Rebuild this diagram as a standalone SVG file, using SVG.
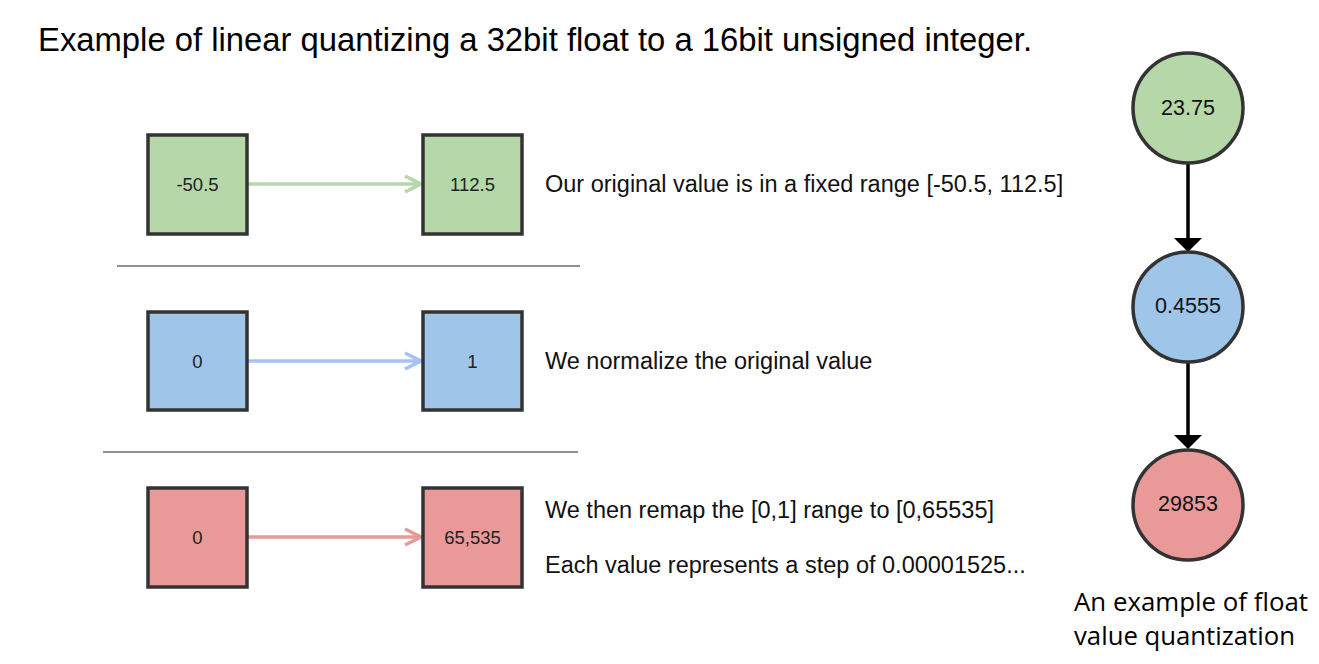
<svg xmlns="http://www.w3.org/2000/svg" width="1319" height="664" viewBox="0 0 1319 664">
<style>
.box{stroke:#333;stroke-width:3.5}
.g{fill:#b6d7a8}.b{fill:#9fc5e8}.r{fill:#ea9999}
.lbl{font-family:"Liberation Sans",Arial,sans-serif;font-size:18.5px;fill:#222;text-anchor:middle;dominant-baseline:central}
.clbl{font-family:"Liberation Sans",Arial,sans-serif;font-size:21.5px;fill:#111;text-anchor:middle;dominant-baseline:central}
.desc{font-family:"Liberation Sans",Arial,sans-serif;font-size:23.5px;fill:#111}
.sep{stroke:#222;stroke-width:1}
.cap{font-family:"Open Sans",Lato,sans-serif;font-size:25.5px;fill:#000}
</style>
<defs>
<marker id="oa" viewBox="0 0 20 20" refX="18" refY="10" markerWidth="20" markerHeight="20" markerUnits="userSpaceOnUse" orient="auto">
<path d="M2,2 L18,10 L2,18" fill="none" stroke="context-stroke" stroke-width="3.5"/>
</marker>
</defs>
<text x="38" y="51" font-family="'Liberation Sans',Arial,sans-serif" font-size="32.5" fill="#000" textLength="994" lengthAdjust="spacingAndGlyphs">Example of linear quantizing a 32bit float to a 16bit unsigned integer.</text>

<g id="connectors">
<line x1="248" y1="184" x2="421" y2="184" stroke="#b6d7a8" stroke-width="3.5" marker-end="url(#oa)"/>
<line x1="248" y1="361" x2="421" y2="361" stroke="#a4c2f4" stroke-width="3.5" marker-end="url(#oa)"/>
<line x1="248" y1="537" x2="421" y2="537" stroke="#ea9999" stroke-width="3.5" marker-end="url(#oa)"/>
<line x1="1188" y1="163" x2="1188" y2="240" stroke="#000" stroke-width="3.5"/>
<path d="M1174,238 L1202,238 L1188,252 Z" fill="#000"/>
<line x1="1188" y1="362" x2="1188" y2="437" stroke="#000" stroke-width="3.5"/>
<path d="M1174,435 L1202,435 L1188,449 Z" fill="#000"/>
</g>

<g id="sep1"><line class="sep" x1="117" y1="266" x2="580" y2="266"/></g>
<g id="sep2"><line class="sep" x1="103" y1="452" x2="578" y2="452"/></g>

<g id="g1"><rect class="box g" x="148" y="135" width="99" height="99"/><text class="lbl" x="197.5" y="184.5">-50.5</text></g>
<g id="g2"><rect class="box g" x="423" y="135" width="99" height="99"/><text class="lbl" x="472.5" y="184.5">112.5</text></g>
<g id="b1"><rect class="box b" x="148" y="312" width="99" height="98"/><text class="lbl" x="197.5" y="361">0</text></g>
<g id="b2"><rect class="box b" x="423" y="312" width="99" height="98"/><text class="lbl" x="472.5" y="361">1</text></g>
<g id="r1"><rect class="box r" x="148" y="488" width="99" height="99"/><text class="lbl" x="197.5" y="537.5">0</text></g>
<g id="r2"><rect class="box r" x="423" y="488" width="99" height="99"/><text class="lbl" x="472.5" y="537.5">65,535</text></g>

<g id="d1"><text class="desc" x="545" y="192">Our original value is in a fixed range [-50.5, 112.5]</text></g>
<g id="d2"><text class="desc" x="545" y="369">We normalize the original value</text></g>
<g id="d3"><text class="desc" x="545" y="518">We then remap the [0,1] range to [0,65535]</text><text class="desc" x="545" y="573">Each value represents a step of 0.00001525...</text></g>

<g id="c1"><circle class="box g" cx="1188" cy="108" r="55"/><text class="clbl" x="1188" y="108">23.75</text></g>
<g id="c2"><circle class="box b" cx="1188" cy="307" r="55"/><text class="clbl" x="1188" y="306">0.4555</text></g>
<g id="c3"><circle class="box r" cx="1188" cy="505" r="55"/><text class="clbl" x="1188" y="504">29853</text></g>

<g id="caption"><text class="cap" x="1074" y="611" textLength="234" lengthAdjust="spacingAndGlyphs">An example of float</text><text class="cap" x="1074" y="645" textLength="221" lengthAdjust="spacingAndGlyphs">value quantization</text></g>
</svg>
